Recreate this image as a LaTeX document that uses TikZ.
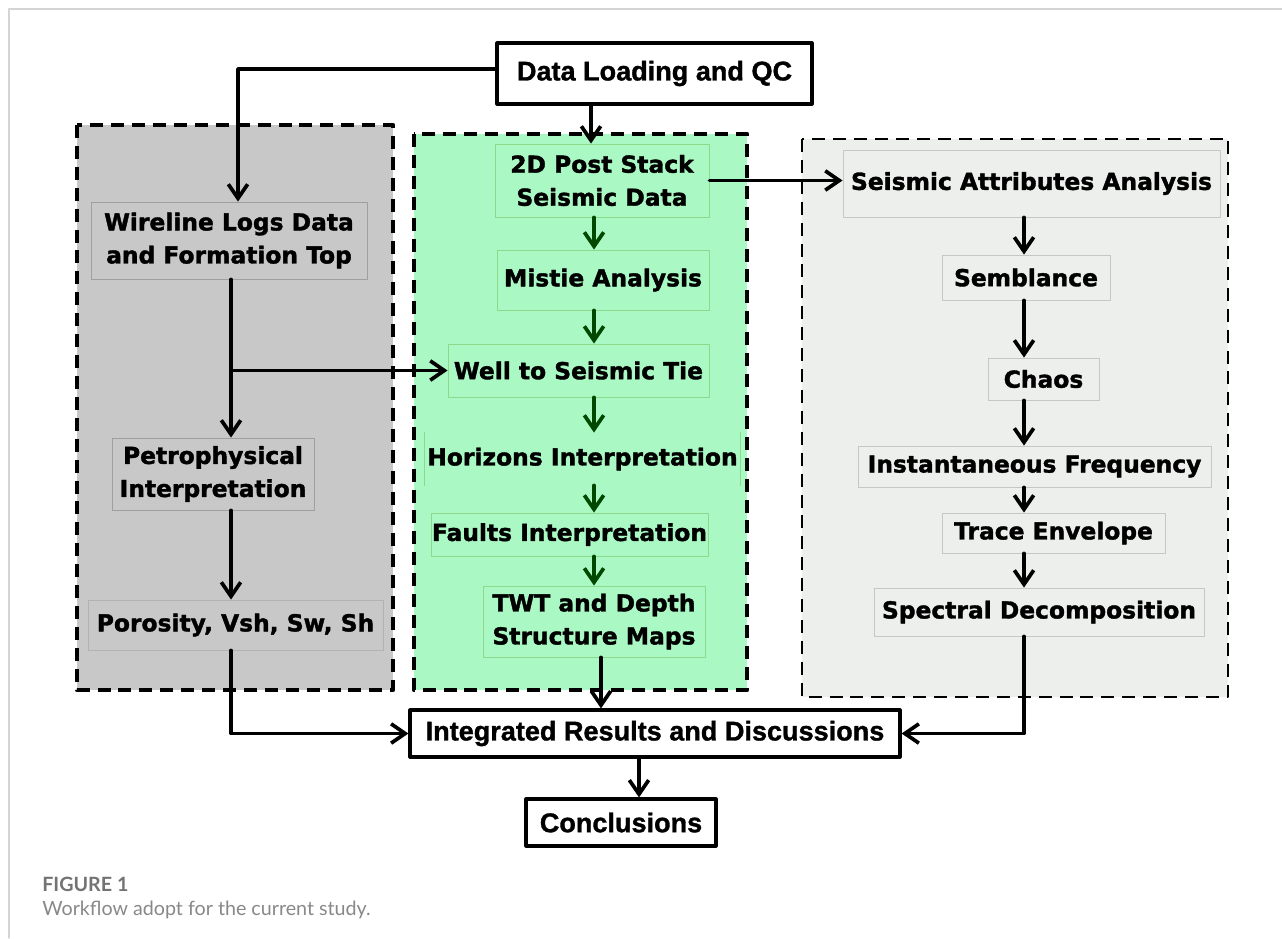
\documentclass[tikz,border=0pt]{standalone}
\usepackage{fontspec}
\usetikzlibrary{calc,arrows.meta}
\newfontfamily\boxfont{Liberation Sans}[BoldFeatures={FakeBold=1.2}]
\newfontfamily\stepfont{DejaVu Sans}[BoldFeatures={FakeBold=1.6}]
\newfontfamily\capfont{Lato}
\definecolor{leftgray}{RGB}{200,200,200}
\definecolor{midgreen}{RGB}{170,248,196}
\definecolor{rightgray}{RGB}{237,239,237}
\definecolor{arrowgreen}{RGB}{0,72,0}
\definecolor{framegray}{RGB}{212,212,212}
\definecolor{capgray}{RGB}{115,115,115}
\tikzset{
  mainbox/.style={draw,line width=1.8pt,fill=white,inner sep=0pt,
    font=\boxfont\bfseries\fontsize{15.4}{18}\selectfont},
  stepbox/.style={draw=#1,line width=0.5pt,inner sep=0pt,align=center,
    font=\stepfont\bfseries\fontsize{13.3}{18.8}\selectfont},
  stepbox/.default={gray},
  panel/.style={line width=2.4pt,dash pattern=on 7.4pt off 4.5pt,line cap=butt},
  flow/.style={line width=2.1pt,-{Straight Barb[length=8pt,width=11pt]}},
  greenflow/.style={flow,draw=arrowgreen}
}

\begin{document}
\begin{tikzpicture}[line cap=round,line join=round]
  \useasboundingbox (0,0) rectangle (25.64,-18.76);
  % 页面边框
  \draw[framegray,line width=0.8pt] (0.18,-18.76) -- (0.18,-0.18) -- (25.64,-0.18);
  % 三个虚线区域
  \draw[panel,fill=leftgray] (1.54,-2.50) rectangle (7.86,-13.80);
  \draw[panel,fill=midgreen] (8.28,-2.68) rectangle (14.94,-13.80);
  \draw[panel,line width=1.5pt,fill=rightgray] (16.04,-2.78) rectangle (24.56,-13.94);
  % 顶部与底部方框
  \node[mainbox,minimum width=6.30cm,minimum height=1.22cm] (load) at (13.09,-1.47) {Data Loading and QC};
  \node[mainbox,minimum width=9.80cm,minimum height=0.94cm] (integ) at (13.10,-14.67) {Integrated Results and Discussions};
  \node[mainbox,minimum width=3.80cm,minimum height=0.94cm] (concl) at (12.42,-16.45) {Conclusions};
  % 测井部分
  \node[stepbox=gray!75,minimum width=5.52cm,minimum height=1.54cm] (wireline) at (4.58,-4.81) {Wireline Logs Data\\and Formation Top};
  \node[stepbox=gray!75,minimum width=4.04cm,minimum height=1.44cm] (petro) at (4.26,-9.48) {Petrophysical\\Interpretation};
  \node[stepbox=gray!60,minimum width=5.90cm,minimum height=1.00cm] (porosity) at (4.71,-12.50) {Porosity, Vsh, Sw, Sh};
  % 地震解释部分
  \node[stepbox=green!50!gray!60,minimum width=4.28cm,minimum height=1.46cm] (seis2d) at (12.04,-3.61) {2D Post Stack\\Seismic Data};
  \node[stepbox=green!50!gray!60,minimum width=4.24cm,minimum height=1.20cm] (mistie) at (12.06,-5.60) {Mistie Analysis};
  \node[stepbox=green!50!gray!60,minimum width=5.22cm,minimum height=1.06cm] (well) at (11.57,-7.41) {Well to Seismic Tie};
  \node[stepbox=none,minimum width=6.30cm,minimum height=1.04cm] (horizon) at (11.65,-9.18) {Horizons Interpretation};
  \draw[green!50!gray!60,line width=0.5pt] (horizon.north west) -- (horizon.south west)
    (horizon.north east) -- (horizon.south east);
  \node[stepbox=green!50!gray!60,minimum width=5.54cm,minimum height=0.86cm] (faults) at (11.39,-10.69) {Faults Interpretation};
  \node[stepbox=green!50!gray!60,minimum width=4.44cm,minimum height=1.42cm] (twt) at (11.88,-12.43) {TWT and Depth\\Structure Maps};
  % 地震属性部分
  \node[stepbox=gray!45,minimum width=7.54cm,minimum height=1.34cm] (attr) at (20.63,-3.67) {Seismic Attributes Analysis};
  \node[stepbox=gray!45,minimum width=3.36cm,minimum height=0.90cm] (semblance) at (20.52,-5.55) {Semblance};
  \node[stepbox=gray!45,minimum width=2.22cm,minimum height=0.84cm] (chaos) at (20.87,-7.58) {Chaos};
  \node[stepbox=gray!45,minimum width=7.06cm,minimum height=0.82cm] (freq) at (20.69,-9.33) {Instantaneous Frequency};
  \node[stepbox=gray!45,minimum width=4.46cm,minimum height=0.80cm] (envelope) at (21.07,-10.66) {Trace Envelope};
  \node[stepbox=gray!45,minimum width=6.60cm,minimum height=0.96cm] (spectral) at (20.78,-12.24) {Spectral Decomposition};
  % 连线所用的竖直位置
  \coordinate (loadcol) at (4.76,-1.38);
  \coordinate (leftcol) at (4.62,0);
  \coordinate (topcol) at (11.82,0);
  \coordinate (midcol) at (11.88,0);
  \coordinate (mapcol) at (12.02,0);
  \coordinate (rightcol) at (20.48,0);
  \coordinate (endcol) at (12.78,0);
  % 箭头
  \draw[flow] (load.west |- loadcol) -- (loadcol) -- (wireline.north -| loadcol);
  \draw[flow] (load.south -| topcol) -- (seis2d.north -| topcol);
  \draw[flow] (wireline.south -| leftcol) -- (petro.north -| leftcol);
  \draw[flow] (well.west -| leftcol) -- (well.west);
  \draw[flow] (petro.south -| leftcol) -- (porosity.north -| leftcol);
  \draw[flow] (porosity.south -| leftcol) |- (integ.west);
  \draw[greenflow] (seis2d.south -| midcol) -- (mistie.north -| midcol);
  \draw[greenflow] (mistie.south -| midcol) -- (well.north -| midcol);
  \draw[greenflow] (well.south -| midcol) -- (horizon.north -| midcol);
  \draw[greenflow] (horizon.south -| midcol) -- (faults.north -| midcol);
  \draw[greenflow] (faults.south -| midcol) -- (twt.north -| midcol);
  \draw[flow] (twt.south -| mapcol) -- (integ.north -| mapcol);
  \draw[flow] (seis2d.east) -- (seis2d.east -| attr.west);
  \draw[flow] (attr.south -| rightcol) -- (semblance.north -| rightcol);
  \draw[flow] (semblance.south -| rightcol) -- (chaos.north -| rightcol);
  \draw[flow] (chaos.south -| rightcol) -- (freq.north -| rightcol);
  \draw[flow] (freq.south -| rightcol) -- (envelope.north -| rightcol);
  \draw[flow] (envelope.south -| rightcol) -- (spectral.north -| rightcol);
  \draw[flow] (spectral.south -| rightcol) |- (integ.east);
  \draw[flow] (integ.south -| endcol) -- (concl.north -| endcol);
  % 图题
  \node[anchor=base west,inner sep=0pt,text=capgray,font=\capfont\bfseries\fontsize{11.2}{13}\selectfont] (figlabel) at (0.84,-17.82) {FIGURE 1};
  \node[anchor=base west,inner sep=0pt,text=capgray!85,font=\capfont\fontsize{11.2}{13}\selectfont] (figcaption) at (0.84,-18.30) {Workflow adopt for the current study.};
\end{tikzpicture}
\end{document}
